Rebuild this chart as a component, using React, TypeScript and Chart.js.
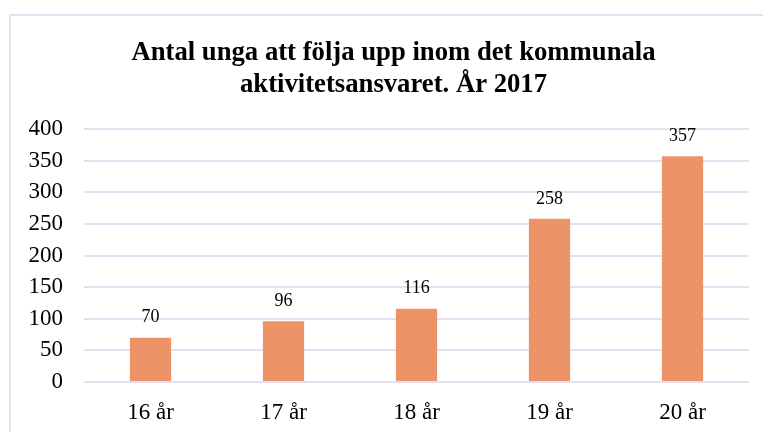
import React, { useEffect, useRef } from "react";
import { Chart, registerables } from "chart.js";

Chart.register(...registerables);

const categories = ["16 år", "17 år", "18 år", "19 år", "20 år"];
const values = [70, 96, 116, 258, 357];
const titleLines = ["Antal unga att följa upp inom det kommunala", "aktivitetsansvaret. År 2017"];
const yMin = 0;
const yMax = 400;
const yStep = 50;

const FONT = "'Liberation Serif', 'Times New Roman', serif";
const BAR_COLOR = "#ED9368";
const GRID_COLOR = "#E6DEF1";

const valueLabels = {
  id: "valueLabels",
  afterDatasetsDraw(chart: any) {
    const ctx = chart.ctx;
    const meta = chart.getDatasetMeta(0);
    ctx.save();
    ctx.font = `18px ${FONT}`;
    ctx.fillStyle = "#000";
    ctx.textAlign = "center";
    ctx.textBaseline = "middle";
    meta.data.forEach((el: any, i: number) => {
      const v = chart.data.datasets[0].data[i];
      ctx.fillText(String(v), el.x, el.y - 20);
    });
    ctx.restore();
  },
};

const chartTitle = {
  id: "chartTitle",
  afterDraw(chart: any) {
    const ctx = chart.ctx;
    ctx.save();
    ctx.font = `bold 26.7px ${FONT}`;
    ctx.fillStyle = "#000";
    ctx.textAlign = "center";
    ctx.textBaseline = "middle";
    titleLines.forEach((line, i) => {
      ctx.fillText(line, 393.5, 53 + i * 32);
    });
    ctx.restore();
  },
};

export default function App() {
  const ref = useRef<HTMLCanvasElement | null>(null);

  useEffect(() => {
    if (!ref.current) return;
    const chart = new Chart(ref.current, {
      type: "bar",
      data: {
        labels: categories,
        datasets: [
          {
            data: values,
            backgroundColor: BAR_COLOR,
            borderWidth: 0,
            barPercentage: 0.31,
            categoryPercentage: 1,
          },
        ],
      },
      options: {
        animation: false,
        responsive: false,
        maintainAspectRatio: false,
        layout: { padding: { left: 0, right: 14, top: 129, bottom: 0 } },
        plugins: {
          legend: { display: false },
          tooltip: { enabled: false },
          title: { display: false },
        },
        scales: {
          x: {
            grid: { display: false, drawTicks: false },
            border: { display: false },
            ticks: {
              color: "#000",
              font: { family: FONT, size: 23 },
              padding: 17,
            },
            afterFit(scale: any) {
              scale.height = 50;
            },
          },
          y: {
            min: yMin,
            max: yMax,
            ticks: {
              stepSize: yStep,
              color: "#000",
              font: { family: FONT, size: 23 },
              padding: 21,
            },
            grid: { color: GRID_COLOR, lineWidth: 2, drawTicks: false },
            border: { display: false },
            afterFit(scale: any) {
              scale.width = 84;
            },
          },
        },
      },
      plugins: [valueLabels, chartTitle],
    });
    return () => chart.destroy();
  }, []);

  return (
    <div
      style={{
        position: "fixed",
        left: 0,
        top: 0,
        width: 763,
        height: 432,
        overflow: "hidden",
        background: "#fff",
      }}
    >
      <div
        style={{
          position: "absolute",
          left: 9,
          top: 14,
          width: 800,
          height: 500,
          border: `2px solid ${GRID_COLOR}`,
          boxSizing: "border-box",
        }}
      />
      <canvas
        ref={ref}
        width={763}
        height={432}
        style={{ position: "absolute", left: 0, top: 0, width: 763, height: 432 }}
      />
    </div>
  );
}
